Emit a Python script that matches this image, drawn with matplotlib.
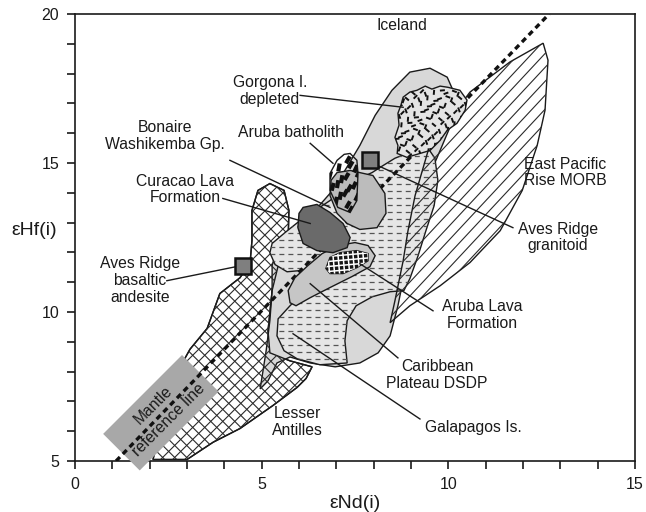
import numpy as np
import matplotlib.pyplot as plt
from matplotlib.patches import Polygon
from matplotlib.collections import LineCollection
from matplotlib.transforms import IdentityTransform

plt.rcParams['font.family'] = ['Liberation Sans', 'DejaVu Sans']
plt.rcParams['lines.scale_dashes'] = False

# field outlines as (eNd, eHf)
lesser_antilles = [(5.22, 14.31), (5.60, 14.08), (5.73, 13.41), (5.71, 12.47), (5.49, 11.80),
                   (5.28, 10.72), (5.17, 9.37), (5.22, 8.63), (5.76, 8.36), (6.35, 8.16),
                   (6.19, 7.77), (5.95, 7.47), (5.30, 6.86), (4.42, 6.09), (3.70, 5.63),
                   (3.00, 5.05), (2.09, 5.05), (2.30, 6.20), (2.76, 8.03), (3.08, 8.75),
                   (3.54, 9.45), (3.88, 10.62), (4.42, 11.15), (4.69, 11.66), (4.74, 12.40),
                   (4.74, 13.41), (4.90, 14.08)]
iceland = [(9.51, 18.18), (8.97, 18.05), (8.49, 17.44), (8.04, 16.60), (7.63, 15.59),
           (7.23, 14.75), (6.83, 13.98), (6.43, 13.41), (6.03, 13.00), (5.68, 12.57),
           (5.41, 12.13), (5.28, 11.56), (5.28, 10.72), (5.22, 9.71), (5.12, 8.70),
           (4.96, 7.42), (5.17, 7.69), (5.41, 8.29), (5.76, 8.49), (6.30, 8.29),
           (6.97, 8.16), (7.63, 8.29), (8.12, 8.63), (8.44, 9.20), (8.65, 10.21),
           (8.84, 11.39), (9.05, 12.73), (9.38, 14.25), (9.78, 15.42), (10.10, 16.37),
           (10.18, 17.28), (9.97, 17.88)]
galapagos = [(5.28, 12.30), (5.63, 12.67), (6.03, 13.07), (6.83, 13.74), (7.50, 14.42),
             (7.96, 14.68), (8.22, 14.89), (8.57, 15.16), (9.03, 15.39), (9.46, 15.49),
             (9.64, 15.16), (9.72, 14.42), (9.62, 13.57), (9.40, 12.73), (9.19, 11.89),
             (8.97, 11.12), (8.81, 10.72), (8.44, 10.68), (7.96, 10.51), (7.53, 10.21),
             (7.29, 9.71), (7.23, 9.03), (7.29, 8.29), (6.56, 8.23), (5.95, 8.43),
             (5.60, 8.70), (5.41, 9.20), (5.44, 9.77), (5.76, 10.21), (6.03, 10.55),
             (6.30, 11.05), (6.03, 11.39), (5.68, 11.35), (5.36, 11.59), (5.22, 11.99)]
epr_morb = [(12.54, 19.02), (12.67, 18.45), (12.59, 16.77), (12.38, 15.59), (11.98, 14.08),
            (11.39, 12.73), (10.58, 11.66), (9.78, 10.88), (8.97, 10.21), (8.44, 9.64),
            (8.57, 10.38), (8.79, 11.72), (8.92, 12.73), (9.11, 13.91), (9.46, 15.42),
            (9.91, 16.27), (10.58, 17.38), (11.65, 18.39)]
gorgona = [(8.79, 17.21), (8.97, 17.38), (9.16, 17.44), (9.38, 17.58), (9.56, 17.48),
           (9.78, 17.58), (9.99, 17.54), (10.31, 17.44), (10.50, 17.11), (10.45, 16.77),
           (10.23, 16.33), (9.97, 16.10), (9.78, 15.76), (9.51, 15.42), (9.24, 15.32),
           (8.89, 15.19), (8.63, 15.32), (8.65, 15.59), (8.57, 15.86), (8.68, 16.27),
           (8.65, 16.67), (8.73, 16.94)]
caribbean_dsdp = [(5.76, 10.31), (5.71, 10.72), (5.89, 11.15), (6.24, 11.56), (6.62, 11.96),
                  (7.04, 12.23), (7.50, 12.33), (7.85, 12.23), (8.04, 11.89), (7.90, 11.52),
                  (7.42, 11.19), (6.83, 10.82), (6.30, 10.48), (5.92, 10.21)]
curacao_lava = [(6.11, 13.51), (6.48, 13.61), (6.83, 13.34), (7.18, 12.97), (7.37, 12.50),
                (7.29, 12.16), (6.91, 11.99), (6.48, 12.06), (6.11, 12.30), (5.97, 12.83),
                (6.00, 13.31)]
bonaire = [(7.02, 14.68), (7.37, 14.75), (7.98, 14.58), (8.30, 13.98), (8.33, 13.31),
           (8.09, 12.83), (7.63, 12.77), (7.29, 12.97), (7.02, 13.31), (6.83, 13.91),
           (6.86, 14.42)]
aruba_lava = [(6.72, 11.46), (6.83, 11.83), (7.10, 11.99), (7.55, 12.06), (7.85, 11.96),
              (7.85, 11.72), (7.55, 11.49), (7.18, 11.29), (6.83, 11.29)]
aruba_batholith = [(7.37, 15.32), (7.55, 15.09), (7.58, 14.65), (7.55, 13.74), (7.37, 13.34),
                   (7.04, 13.51), (6.83, 14.08), (6.83, 14.65), (7.02, 15.09), (7.21, 15.29)]

# Aves Ridge samples (basaltic andesite, granitoid)
aves_nd = [4.50, 7.90]
aves_hf = [11.56, 15.10]

# mantle reference line end points
mantle_nd = [1.1, 12.7]
mantle_hf = [5.0, 20.0]

# text, text position, leader start, leader end
labels = [
    ('Iceland', (8.76, 19.63), None, None),
    ('Gorgona I.\ndepleted', (5.22, 17.41), (6.03, 17.27), (8.79, 16.87)),
    ('Aruba batholith', (5.79, 16.03), (6.30, 15.66), (6.91, 14.99)),
    ('Bonaire\nWashikemba Gp.', (2.41, 15.90), (4.15, 15.09), (6.83, 13.51)),
    ('Curacao Lava\nFormation', (2.95, 14.11), (3.96, 13.81), (6.30, 12.97)),
    ('Aves Ridge\nbasaltic\nandesite', (1.74, 11.05), (2.46, 11.05), (4.31, 11.52)),
    ('Lesser\nAntilles', (5.95, 6.31), None, None),
    ('Galapagos Is.', (10.66, 6.11), (9.24, 6.41), (5.84, 9.27)),
    ('Caribbean\nPlateau DSDP', (9.70, 7.89), (8.65, 8.46), (6.30, 10.95)),
    ('Aruba Lava\nFormation', (10.90, 9.91), (9.59, 10.04), (7.63, 11.62)),
    ('Aves Ridge\ngranitoid', (12.94, 12.50), (11.73, 12.83), (7.98, 14.99)),
    ('East Pacific\nRise MORB', (13.13, 14.68), None, None),
]


def field(ax, pts, face, z, lw=1.0):
    p = Polygon(pts, closed=True, facecolor=face, edgecolor='#1a1a1a', lw=lw, zorder=z)
    ax.add_patch(p)
    return p


def hatch(ax, patch, angle, step, z, color='#2a2a2a', lw=0.8, **kw):
    # parallel lines in pixel space, clipped to the field
    x0, y0, x1, y1 = ax.bbox.extents
    cx, cy = (x0 + x1) / 2, (y0 + y1) / 2
    r = np.hypot(x1 - x0, y1 - y0)
    a = np.radians(angle)
    d = np.array([np.cos(a), np.sin(a)])
    n = np.array([-np.sin(a), np.cos(a)])
    segs = []
    for off in np.arange(-r, r, step):
        c = np.array([cx, cy]) + n * off
        segs.append([c - d * r, c + d * r])
    lc = LineCollection(segs, colors=color, linewidths=lw, transform=IdentityTransform(),
                        zorder=z, **kw)
    ax.add_collection(lc, autolim=False)
    lc.set_clip_path(patch)


def strokes(ax, patch, pts, step, length, angles, lw, z):
    xy = ax.transData.transform(pts)
    x0, y0 = xy.min(axis=0)
    x1, y1 = xy.max(axis=0)
    segs = []
    for i, x in enumerate(np.arange(x0, x1, step)):
        for j, y in enumerate(np.arange(y0, y1, step)):
            a = np.radians(angles[(i * 3 + j * 5) % len(angles)])
            jx = ((i * 7 + j * 3) % 5 - 2) * step * 0.15
            jy = ((i * 2 + j * 7) % 5 - 2) * step * 0.15
            c = np.array([x + jx, y + jy])
            dv = np.array([np.cos(a), np.sin(a)]) * length / 2
            segs.append([c - dv, c + dv])
    lc = LineCollection(segs, colors='#111111', linewidths=lw, transform=IdentityTransform(),
                        zorder=z, capstyle='butt')
    ax.add_collection(lc, autolim=False)
    lc.set_clip_path(patch)


fig = plt.figure(figsize=(6.46, 5.12), dpi=100)
ax = fig.add_axes([75 / 646, 1 - 461 / 512, 560 / 646, 447 / 512])
ax.set_xlim(0, 15)
ax.set_ylim(5, 20)

# Lesser Antilles: crosshatch
la = field(ax, lesser_antilles, 'white', 1)
ice = field(ax, iceland, '#d8d8d8', 2)
la_top = Polygon(lesser_antilles, closed=True, fill=False, edgecolor='#1a1a1a', lw=1.0, zorder=3)
ax.add_patch(la_top)
hatch(ax, la, 45, 8.5, 3)
hatch(ax, la, -45, 8.5, 3)

# Galapagos: dashed field
gal = field(ax, galapagos, '#e6e6e6', 4)
dash_kw = dict(linestyles=[(0, (3.6, 2.9))])
hatch(ax, gal, 0, 7, 4, color='#555555', lw=0.9, **dash_kw)

# East Pacific Rise MORB: diagonal lines, no fill
epr = field(ax, epr_morb, 'none', 5)
hatch(ax, epr, 47, 9.5, 5)

# mantle reference line and its label
ax.text(2.30, 6.62, 'Mantle\nreference line', rotation=45, rotation_mode='anchor',
        ha='center', va='center', fontsize=11.3, color='#1a1a1a', linespacing=1.5, zorder=6,
        bbox=dict(boxstyle='square,pad=0.5', facecolor='#a8a8a8', edgecolor='none'))
ax.plot(mantle_nd, mantle_hf, color='#111111', lw=2.4, linestyle=(0, (4, 3)),
        zorder=6.5, solid_capstyle='butt')

# Gorgona depleted
gor = field(ax, gorgona, '#e4e4e4', 7)
strokes(ax, gor, gorgona, 6.5, 5, [70, 110, 20, 140, 85, 160, 45, 5], 1.4, 7)

# small fields
field(ax, caribbean_dsdp, '#c6c6c6', 8)
field(ax, curacao_lava, '#6a6a6a', 8)
field(ax, bonaire, '#bcbcbc', 8)
al = field(ax, aruba_lava, '#151515', 8.5)
hatch(ax, al, 5, 5, 8.5, color='white', lw=1.1)
hatch(ax, al, 95, 5, 8.5, color='white', lw=1.1)
bat = field(ax, aruba_batholith, 'none', 8.6)
strokes(ax, bat, aruba_batholith, 9, 8, [75, 60, 20, 80, 65], 3, 8.6)

# leader lines and labels
for text, (tx, ty), start, end in labels:
    if start is not None:
        ax.plot([start[0], end[0]], [start[1], end[1]], color='#1a1a1a', lw=1.0, zorder=9)
    ax.text(tx, ty, text, ha='center', va='center', fontsize=11.3, color='#1a1a1a',
            linespacing=1.15, zorder=10)

ax.plot(aves_nd, aves_hf, 's', ms=11, mfc='#7f7f7f', mec='#111111', mew=1.8, zorder=9.5)

# axes
ax.set_xticks([0, 5, 10, 15])
ax.set_yticks([5, 10, 15, 20])
ax.set_xticks(range(16), minor=True)
ax.set_yticks(range(5, 21), minor=True)
ax.tick_params(which='both', direction='out', length=5.5, width=1.2, color='#1a1a1a')
ax.tick_params(labelsize=11.5, labelcolor='#1a1a1a', pad=6)
for s in ax.spines.values():
    s.set_linewidth(1.2)
    s.set_color('#1a1a1a')

ax.set_xlabel('εNd(i)', fontsize=14, color='#1a1a1a', labelpad=2)
ax.text(-0.073, 0.516, 'εHf(i)', transform=ax.transAxes, ha='center', va='center',
        fontsize=14, color='#1a1a1a')

fig.savefig('out.png', dpi=100)
